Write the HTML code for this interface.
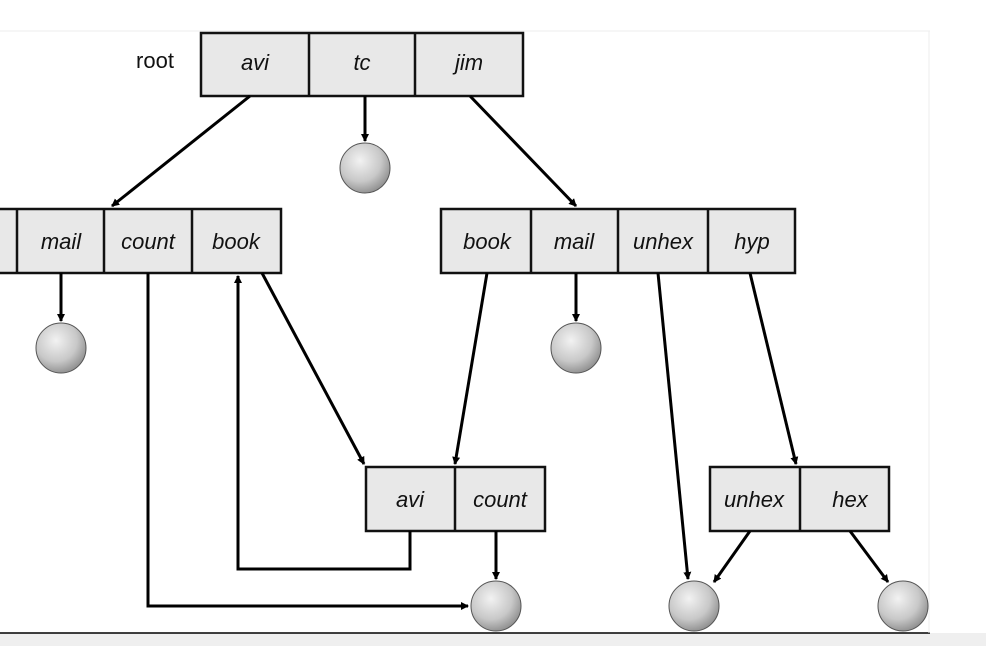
<!DOCTYPE html>
<html><head><style>
body{margin:0;width:986px;height:646px;overflow:hidden;background:#fff;}
</style></head><body>
<svg width="986" height="646" viewBox="0 0 986 646" xmlns="http://www.w3.org/2000/svg" font-family="Liberation Sans, sans-serif">
<defs>
<radialGradient id="g" cx="0.4" cy="0.35" r="0.7"><stop offset="0" stop-color="#f2f2f2"/><stop offset="0.6" stop-color="#c8c8c8"/><stop offset="1" stop-color="#8a8a8a"/></radialGradient>
<marker id="a" markerWidth="8" markerHeight="8" refX="7" refY="4" orient="auto" markerUnits="userSpaceOnUse" viewBox="0 0 8 8"><path d="M0,0 L8,4 L0,8z" fill="#000"/></marker>
</defs>
<rect x="0" y="0" width="986" height="646" fill="#fff"/>
<rect x="0" y="633" width="986" height="13" fill="#efefef"/>
<line x1="0" y1="633" x2="930" y2="633" stroke="#000" stroke-width="1.5"/>
<line x1="0" y1="31" x2="930" y2="31" stroke="#eee" stroke-width="1"/>
<line x1="929" y1="31" x2="929" y2="633" stroke="#eee" stroke-width="1"/>
<g stroke="#111" stroke-width="2.5" fill="#e8e8e8">
<rect x="201" y="33" width="322" height="63"/>
<line x1="309" y1="33" x2="309" y2="96"/><line x1="415" y1="33" x2="415" y2="96"/>
<rect x="-5" y="209" width="286" height="64"/>
<line x1="17" y1="209" x2="17" y2="273"/><line x1="104" y1="209" x2="104" y2="273"/><line x1="192" y1="209" x2="192" y2="273"/>
<rect x="441" y="209" width="354" height="64"/>
<line x1="531" y1="209" x2="531" y2="273"/><line x1="618" y1="209" x2="618" y2="273"/><line x1="708" y1="209" x2="708" y2="273"/>
<rect x="366" y="467" width="179" height="64"/>
<line x1="455" y1="467" x2="455" y2="531"/>
<rect x="710" y="467" width="179" height="64"/>
<line x1="800" y1="467" x2="800" y2="531"/>
</g>
<g font-size="22" font-style="italic" text-anchor="middle" fill="#111">
<text x="255" y="70">avi</text><text x="362" y="70">tc</text><text x="469" y="70">jim</text>
<text x="61" y="249">mail</text><text x="148" y="249">count</text><text x="236" y="249">book</text>
<text x="487" y="249">book</text><text x="574" y="249">mail</text><text x="663" y="249">unhex</text><text x="752" y="249">hyp</text>
<text x="410" y="507">avi</text><text x="500" y="507">count</text>
<text x="754" y="507">unhex</text><text x="850" y="507">hex</text>
</g>
<text x="155" y="68" font-size="22" text-anchor="middle" fill="#111">root</text>
<g stroke="#000" stroke-width="3" fill="none" marker-end="url(#a)">
<line x1="250" y1="96" x2="112" y2="206"/>
<line x1="365" y1="96" x2="365" y2="141"/>
<line x1="470" y1="96" x2="576" y2="206"/>
<line x1="61" y1="273" x2="61" y2="321"/>
<polyline points="148,273 148,606 468,606"/>
<polyline points="410,531 410,569 238,569 238,276"/>
<line x1="262" y1="273" x2="364" y2="464"/>
<line x1="487" y1="273" x2="455" y2="464"/>
<line x1="576" y1="273" x2="576" y2="321"/>
<line x1="658" y1="273" x2="688" y2="579"/>
<line x1="750" y1="273" x2="796" y2="464"/>
<line x1="496" y1="531" x2="496" y2="579"/>
<line x1="750" y1="531" x2="714" y2="582"/>
<line x1="850" y1="531" x2="888" y2="582"/>
</g>
<g fill="url(#g)" stroke="#555" stroke-width="1">
<circle cx="365" cy="168" r="25"/>
<circle cx="61" cy="348" r="25"/>
<circle cx="576" cy="348" r="25"/>
<circle cx="496" cy="606" r="25"/>
<circle cx="694" cy="606" r="25"/>
<circle cx="903" cy="606" r="25"/>
</g>
</svg>
</body></html>
